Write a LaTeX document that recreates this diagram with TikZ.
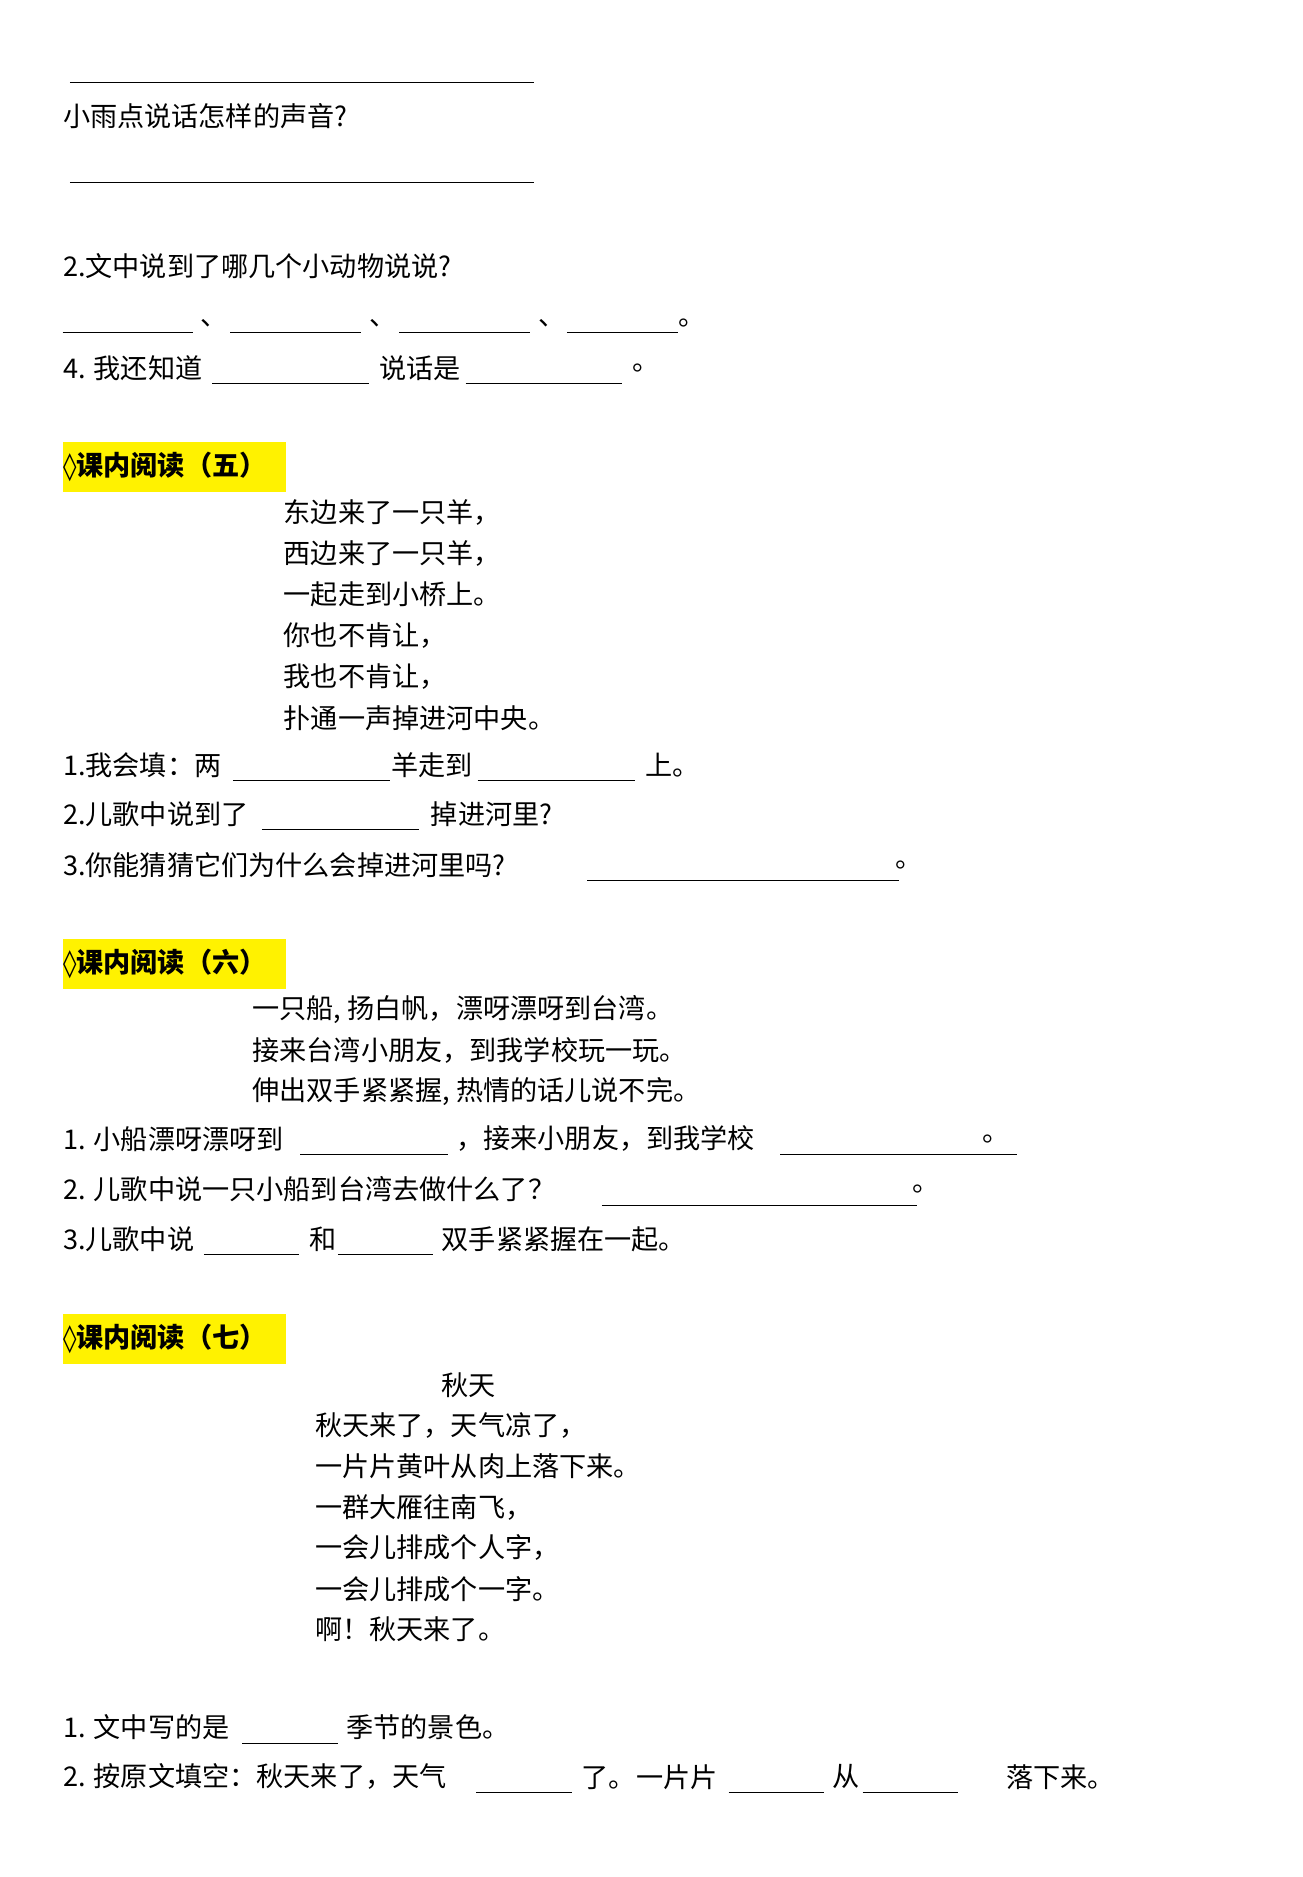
\documentclass[tikz,border=0pt]{standalone}
\usepackage{fontspec}
\setmainfont{Noto Sans CJK SC}
\newfontfamily\symfont{DejaVu Sans}
\begin{document}
\begin{tikzpicture}[x=0.025cm,y=-0.025cm,
  txt/.style={anchor=west,inner sep=0pt,font=\fontsize{16}{18}\selectfont},
  head/.style={anchor=west,fill=yellow,inner sep=0pt,minimum height=42*0.025cm,text width=185*0.025cm,font=\fontsize{16}{18}\selectfont\bfseries},
  blank/.style={line width=0.6pt}]
\useasboundingbox (0,0) rectangle (1080,1556);
% top block
\draw[blank] (58,68) -- (443,68);
\node[txt] (q1) at (52,96) {小雨点说话怎样的声音?};
\draw[blank] (58,151) -- (443,151);
\node[txt] (q2) at (52,221) {2.文中说到了哪几个小动物说说?};
\draw[blank] (52,276) -- (160,276);
\node[txt] at (166,268) {、};
\draw[blank] (191,276) -- (299,276);
\node[txt] at (306,268) {、};
\draw[blank] (331,276) -- (439,276);
\node[txt] at (446,268) {、};
\draw[blank] (470,276) -- (562,276);
\node[txt] at (562,268) {。};
\node[txt] (q4) at (52,305) {4. 我还知道};
\draw[blank] (176,318) -- (306,318);
\node[txt] at (314,305) {说话是};
\draw[blank] (386,318) -- (516,318);
\node[txt] at (524,305) {。};
% reading five
\node[head] (h5) at (52,387) {{\symfont ◊}课内阅读（五）};
\foreach \l [count=\i] in {东边来了一只羊，,西边来了一只羊，,一起走到小桥上。,你也不肯让，,我也不肯让，,扑通一声掉进河中央。}
  \node[txt] at (235,391+\i*34-34+34) {\l};
\node[txt] (a1) at (52,634) {1.我会填：两};
\draw[blank] (193,647) -- (323,647);
\node[txt] at (324,634) {羊走到};
\draw[blank] (396,647) -- (526,647);
\node[txt] at (535,634) {上。};
\node[txt] (a2) at (52,675) {2.儿歌中说到了};
\draw[blank] (217,688) -- (347,688);
\node[txt] at (357,675) {掉进河里?};
\node[txt] (a3) at (52,717) {3.你能猜猜它们为什么会掉进河里吗?};
\draw[blank] (487,730) -- (745,730);
\node[txt] at (742,717) {。};
% reading six
\node[head] (h6) at (52,799) {{\symfont ◊}课内阅读（六）};
\node[txt] at (209,837) {一只船, 扬白帆，漂呀漂呀到台湾。};
\node[txt] at (209,871) {接来台湾小朋友，到我学校玩一玩。};
\node[txt] at (209,905) {伸出双手紧紧握, 热情的话儿说不完。};
\node[txt] (b1) at (52,944) {1. 小船漂呀漂呀到};
\draw[blank] (249,957) -- (371,957);
\node[txt] at (378,944) {，接来小朋友，到我学校};
\draw[blank] (647,957) -- (843,957);
\node[txt] at (814,944) {。};
\node[txt] (b2) at (52,986) {2. 儿歌中说一只小船到台湾去做什么了？};
\draw[blank] (499,999) -- (760,999);
\node[txt] at (756,986) {。};
\node[txt] (b3) at (52,1027) {3.儿歌中说};
\draw[blank] (169,1040) -- (248,1040);
\node[txt] at (256,1027) {和};
\draw[blank] (280,1040) -- (359,1040);
\node[txt] at (366,1027) {双手紧紧握在一起。};
% reading seven
\node[head] (h7) at (52,1110) {{\symfont ◊}课内阅读（七）};
\node[txt] (title) at (366,1148) {秋天};
\foreach \l [count=\i] in {秋天来了，天气凉了，,一片片黄叶从肉上落下来。,一群大雁往南飞，,一会儿排成个人字，,一会儿排成个一字。,啊！秋天来了。}
  \node[txt] at (261,1148+\i*33.8) {\l};
\node[txt] (c1) at (52,1432) {1. 文中写的是};
\draw[blank] (201,1445) -- (280,1445);
\node[txt] at (287,1432) {季节的景色。};
\node[txt] (c2) at (52,1473) {2. 按原文填空：秋天来了，天气};
\draw[blank] (395,1486) -- (474,1486);
\node[txt] at (482,1473) {了。一片片};
\draw[blank] (604,1486) -- (683,1486);
\node[txt] at (690,1473) {从};
\draw[blank] (715,1486) -- (794,1486);
\node[txt] at (834,1473) {落下来。};
\end{tikzpicture}
\end{document}
